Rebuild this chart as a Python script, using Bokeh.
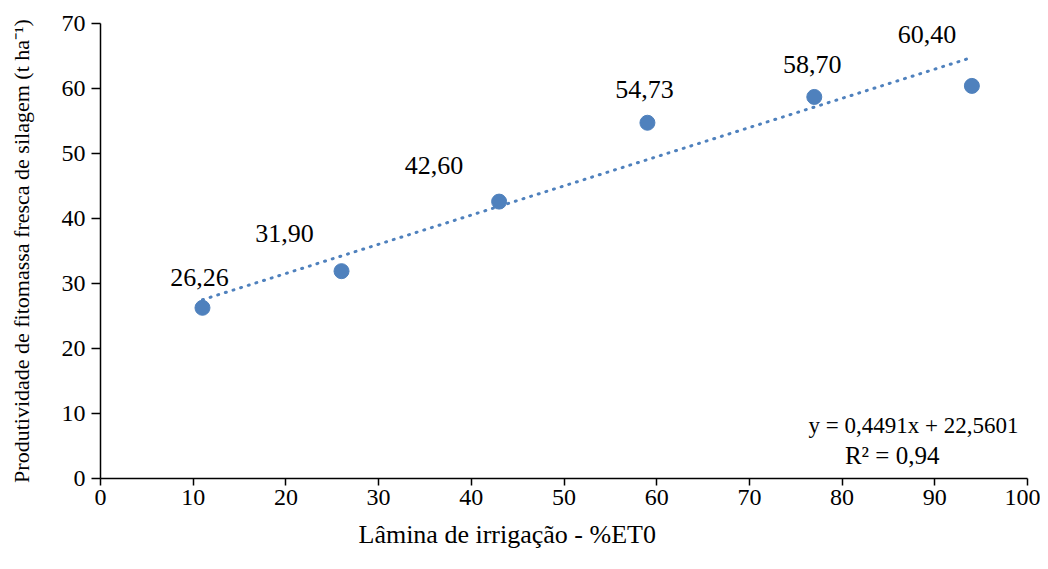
from bokeh.plotting import figure
from bokeh.models import ColumnDataSource, Label, Title
from bokeh.core.properties import value
from bokeh.embed import file_html
from bokeh.resources import INLINE

# data
lamina = [11, 26, 43, 59, 77, 94]
produtividade = [26.26, 31.90, 42.60, 54.73, 58.70, 60.40]
labels = ["26,26", "31,90", "42,60", "54,73", "58,70", "60,40"]
slope = 0.4491
intercept = 22.5601
eq_text = "y = 0,4491x + 22,5601"
r2_text = "R² = 0,94"
x_title = "Lâmina de irrigação - %ET0"
y_title = "Produtividade de fitomassa fresca de silagem (t ha⁻¹)"
x_ticks = [0, 10, 20, 30, 40, 50, 60, 70, 80, 90, 100]
y_ticks = [0, 10, 20, 30, 40, 50, 60, 70]

# label pixel offsets (styling)
lab_dx = [-3, -57, -65, -3, -2, -45]
lab_dy = [-30, -38, -36, -33, -32, -51]

FONT = "Liberation Serif"
BLUE = "#4F81BD"

p = figure(width=1040, height=561, x_range=(0, 100), y_range=(0, 70),
           output_backend="svg", toolbar_location=None,
           min_border_left=100, min_border_top=23, min_border_right=13, min_border_bottom=83)
p.outline_line_color = None
p.xgrid.visible = False
p.ygrid.visible = False

for ax in (p.xaxis, p.yaxis):
    ax.axis_line_color = "black"
    ax.axis_line_width = 1.5
    ax.major_tick_line_color = "black"
    ax.major_tick_line_width = 1.5
    ax.major_tick_in = 0
    ax.minor_tick_line_color = None
    ax.major_label_text_font = FONT
    ax.major_label_text_font_size = "24px"
    ax.major_label_text_color = "black"

p.xaxis.ticker = x_ticks
p.yaxis.ticker = y_ticks
p.xaxis.major_tick_out = 7
p.yaxis.major_tick_out = 9
p.xaxis.major_label_standoff = 4
p.yaxis.major_label_standoff = 6

p.yaxis.axis_label = y_title
p.yaxis.axis_label_text_font = FONT
p.yaxis.axis_label_text_font_size = "22px"
p.yaxis.axis_label_text_font_style = "normal"
p.yaxis.axis_label_text_color = "black"
p.yaxis.axis_label_standoff = 25

# x-axis title, shifted left as in the original
xt = Title(text=x_title, align="left", offset=258,
           text_font=FONT, text_font_size="26px", text_font_style="normal",
           text_color="black", standoff=21)
p.add_layout(xt, "below")

# trend line
tx = [min(lamina), max(lamina)]
ty = [slope * v + intercept for v in tx]
p.line(tx, ty, line_color=BLUE, line_width=3, line_dash="1 7", line_cap="round")

src = ColumnDataSource(dict(x=lamina, y=produtividade, t=labels, dx=lab_dx, dy=lab_dy))
p.scatter("x", "y", source=src, size=15, fill_color=BLUE, line_color=BLUE)
p.text("x", "y", text="t", source=src, x_offset="dx", y_offset="dy",
       text_font=value(FONT), text_font_size="26px", text_color="black",
       text_align="center", text_baseline="middle")

p.add_layout(Label(x=87.7, y=8.15, text=eq_text, text_font=FONT, text_font_size="23px",
                   text_align="center", text_baseline="middle", text_color="black"))
p.add_layout(Label(x=85.4, y=3.5, text=r2_text, text_font=FONT, text_font_size="25px",
                   text_align="center", text_baseline="middle", text_color="black"))

open("out.html", "w").write(file_html(p, INLINE))
